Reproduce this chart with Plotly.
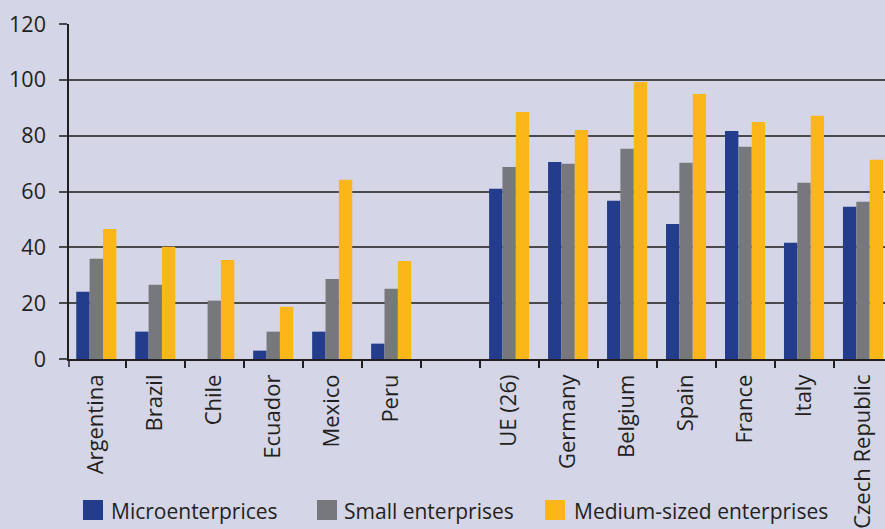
import plotly.graph_objects as go

# Categories (a blank slot separates the two regions)
categories = ["Argentina", "Brazil", "Chile", "Ecuador", "Mexico", "Peru", " ",
              "UE (26)", "Germany", "Belgium", "Spain", "France", "Italy", "Czech Republic"]

micro = [24.1, 9.8, None, 3.0, 9.8, 5.5, None, 61.0, 70.6, 56.7, 48.4, 81.7, 41.6, 54.5]
small = [35.9, 26.6, 20.9, 9.8, 28.7, 25.2, None, 68.8, 69.9, 75.3, 70.3, 76.0, 63.1, 56.3]
medium = [46.6, 40.2, 35.5, 18.7, 64.2, 35.1, None, 88.5, 82.0, 99.2, 94.9, 84.9, 87.1, 71.4]

series_names = ["Microenterprices", "Small enterprises", "Medium-sized enterprises"]
colors = ["#243C8C", "#77787B", "#FBB619"]

BG = "#D4D5E7"
INK = "#231F20"
GRID = "#4A4A4D"
FONT = "Open Sans"

W, H = 885, 529
M_L, M_R, M_T, M_B = 69, 0, 24, 170
PW, PH = W - M_L - M_R, H - M_T - M_B


def paper_x(px):
    return (px - M_L) / PW


def paper_y(py):
    return (H - M_B - py) / PH


fig = go.Figure()
for name, vals, col in zip(series_names, [micro, small, medium], colors):
    fig.add_trace(go.Bar(x=categories, y=vals, name=name, marker_color=col,
                         marker_line_width=0, showlegend=False))

fig.update_layout(
    width=W, height=H,
    margin=dict(l=M_L, r=M_R, t=M_T, b=M_B, pad=0),
    paper_bgcolor=BG, plot_bgcolor=BG,
    barmode="group", bargap=0.32, bargroupgap=0,
    font=dict(family=FONT, size=20, color=INK),
)

fig.update_xaxes(
    type="category", categoryorder="array", categoryarray=categories,
    range=[-0.463, 13.373],
    tickson="boundaries", ticks="outside", ticklen=7, tickwidth=1.5, tickcolor=INK,
    tickangle=-90, tickfont=dict(family=FONT, size=22, color=INK),
    showgrid=False, showline=True, linecolor=INK, linewidth=1.5,
    ticklabelstandoff=5,
)

fig.update_yaxes(
    range=[0, 120], dtick=20, tick0=0,
    ticks="outside", ticklen=8, tickwidth=1.5, tickcolor=GRID,
    tickfont=dict(family=FONT, size=21.5, color=INK),
    showgrid=True, gridcolor=GRID, gridwidth=1.6,
    showline=True, linecolor=INK, linewidth=1.5,
    zeroline=False, ticklabelstandoff=9,
)

# short downward extension of the vertical axis below the baseline
fig.add_shape(type="line", xref="paper", yref="paper",
              x0=0, x1=0, y0=0, y1=paper_y(367),
              line=dict(color=INK, width=1.5))

# legend drawn as colored squares with text
legend_items = [(83, 109), (317, 342), (545, 572)]
for (sq_x, tx_x), name, col in zip(legend_items, series_names, colors):
    fig.add_shape(type="rect", xref="paper", yref="paper",
                  x0=paper_x(sq_x), x1=paper_x(sq_x + 20),
                  y0=paper_y(520), y1=paper_y(500),
                  fillcolor=col, line_width=0)
    fig.add_annotation(xref="paper", yref="paper", x=paper_x(tx_x), y=paper_y(511),
                       text=name, showarrow=False, xanchor="left", yanchor="middle",
                       font=dict(family=FONT, size=21, color=INK))

fig.write_html("out.html")
